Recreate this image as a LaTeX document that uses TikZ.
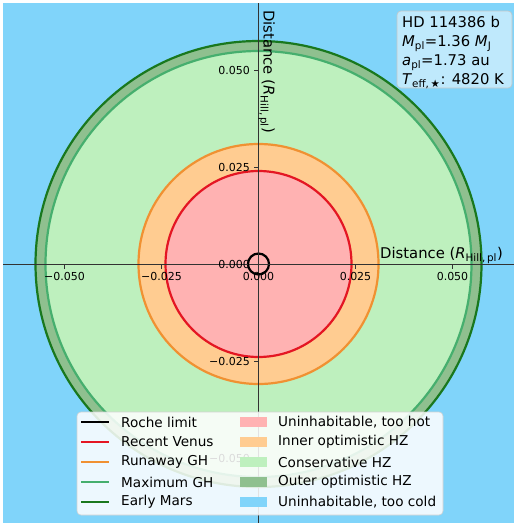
\documentclass[tikz,border=0pt]{standalone}
\usepackage{fontspec}
\setmainfont{DejaVu Sans}
\definecolor{skyc}{RGB}{128,212,250}
\definecolor{hotc}{RGB}{255,178,178}
\definecolor{innerc}{RGB}{255,204,145}
\definecolor{consc}{RGB}{190,240,190}
\definecolor{outerc}{RGB}{143,192,143}
\definecolor{venusl}{RGB}{228,22,35}
\definecolor{runl}{RGB}{240,145,50}
\definecolor{maxl}{RGB}{70,175,110}
\definecolor{marsl}{RGB}{25,120,30}
\definecolor{axisc}{RGB}{50,50,50}
\newcommand\sbs[1]{\textsubscript{#1}}
\begin{document}
\begin{tikzpicture}[x=1pt,y=-1pt,
  lbl/.style={font=\fontsize{13.6}{16}\selectfont, anchor=west, inner sep=0pt},
  ticklbl/.style={font=\fontsize{11}{13}\selectfont, inner sep=0pt},
  infotxt/.style={font=\fontsize{14.8}{17}\selectfont, anchor=base west, inner sep=0pt},
  ring/.style={line width=2.2pt},
  axisline/.style={draw=axisc, line width=0.9pt},
  tickmark/.style={draw=axisc, line width=0.8pt},
  swatch/.style={minimum width=27pt, minimum height=10pt, inner sep=0pt, draw=none}]
\useasboundingbox (0,0) rectangle (517,528);
\fill[white] (0,0) rectangle (517,528);
\fill[skyc] (3,3) rectangle (514,523);
\coordinate (O) at (258.5,264);
% filled zones
\fill[outerc] (O) circle[radius=223pt];
\fill[consc] (O) circle[radius=213pt];
\fill[innerc] (O) circle[radius=120pt];
\fill[hotc] (O) circle[radius=93pt];
% boundary lines
\draw[ring, marsl] (O) circle[radius=223pt];
\draw[ring, maxl] (O) circle[radius=213pt];
\draw[ring, runl] (O) circle[radius=120pt];
\draw[ring, venusl] (O) circle[radius=93pt];
\draw[ring, black] (O) circle[radius=10.5pt];
% axes
\coordinate (xl) at (3,264); \coordinate (xr) at (514,264);
\coordinate (yt) at (258.5,3); \coordinate (yb) at (258.5,523);
\draw[axisline] (xl) -- (xr);
\draw[axisline] (yt) -- (yb);
% x ticks
\foreach \px/\t in {64.5/\textminus0.050,161.5/\textminus0.025,258.5/0.000,355.5/0.025,452.5/0.050}{
  \draw[tickmark] (\px,264) -- (\px,268.5);
  \node[ticklbl, anchor=north] at (\px,272) {\t};
}
% y ticks
\foreach \py/\t in {70/0.050,167/0.025,264/0.000,361/\textminus0.025,458/\textminus0.050}{
  \draw[tickmark] (258.5,\py) -- (254,\py);
  \node[ticklbl, anchor=east] at (250,\py) {\t};
}
% axis labels
\node[infotxt] (xlab) at (380,258.5)
  {Distance (\textit{R}\sbs{Hill,\,pl})};
\node[infotxt, rotate=-90] (ylab) at (263.5,10)
  {Distance (\textit{R}\sbs{Hill,\,pl})};
% info box
\draw[rounded corners=4pt, fill=white, fill opacity=0.5, draw=gray!45, line width=0.6pt] (397,11) rectangle (512,88);
\node[infotxt] (i1) at (402,27.5) {HD 114386 b};
\node[infotxt] (i2) at (402,46.5) {\textit{M}\sbs{pl}=1.36 \textit{M}\sbs{J}};
\node[infotxt] (i3) at (402,65.5) {\textit{a}\sbs{pl}=1.73 au};
\node[infotxt] (i4) at (402,84.5) {\textit{T}\sbs{eff,\,★}: 4820 K};
% legend
\draw[rounded corners=4pt, fill=white, fill opacity=0.86, draw=gray!35, line width=0.6pt] (77,412) rectangle (443,515);
\foreach \yy/\c/\t [count=\i] in {422/black/Roche limit,442/venusl/Recent Venus,462/runl/Runaway GH,482/maxl/Maximum GH,502/marsl/Early Mars}{
  \coordinate (ha\i) at (81,\yy); \coordinate (hb\i) at (109,\yy);
  \draw[line width=2pt, \c] (ha\i) -- (hb\i);
  \node[lbl] (lt\i) at (121,\yy) {\t};
}
\foreach \yy/\c/\t [count=\i] in {422/hotc/{Uninhabitable, too hot},442/innerc/Inner optimistic HZ,462/consc/Conservative HZ,482/outerc/Outer optimistic HZ,502/skyc/{Uninhabitable, too cold}}{
  \node[swatch, fill=\c] (sw\i) at (253.5,\yy) {};
  \node[lbl] (rt\i) at (278,\yy) {\t};
}
\end{tikzpicture}
\end{document}
